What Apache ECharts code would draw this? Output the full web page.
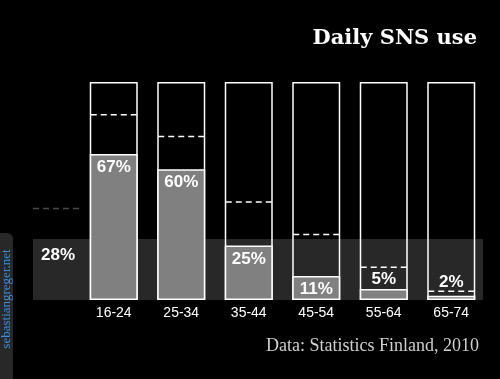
<!DOCTYPE html>
<html lang="en">
<head>
    <meta charset="UTF-8">
    <title>Daily SNS use</title>
    <style>
        body, html { margin: 0; height: 100%; overflow: hidden; background: #000; }
        #main { width: 500px; height: 379px; }
    </style>
</head>
<body>
    <div id="main"></div>
    <script src="https://cdn.jsdelivr.net/npm/echarts@6/dist/echarts.min.js"></script>
    <script type="text/javascript">
        // age groups and share of daily SNS users (%)
        const ageGroups = ['16-24', '25-34', '35-44', '45-54', '55-64', '65-74'];
        const dailyUse = [67, 60, 25, 11, 5, 2];
        // dashed marks inside each bar
        const dashedUse = [85, 75, 45, 30, 15, 4];
        // whole population
        const avgDaily = 28;
        const avgDashed = 42;

        var myChart = echarts.init(document.getElementById('main'));

        // labels of tiny bars sit above the fill
        const fillData = dailyUse.map(function (v, i) {
            if (v < 10) {
                return { value: v, label: { position: 'top', distance: i == 5 ? 5 : 1 } };
            }
            return v;
        });

        var option = {
            backgroundColor: '#000',
            animation: false,
            title: [{
                text: 'Daily SNS use',
                right: 18,
                top: 23,
                textStyle: { color: '#fff', fontFamily: 'DejaVu Serif', fontWeight: 'bold', fontSize: 21 }
            }, {
                text: 'Data: Statistics Finland, 2010',
                right: 16,
                top: 332,
                textStyle: { color: '#cfcfcf', fontFamily: 'Liberation Serif', fontWeight: 'normal', fontSize: 18 }
            }],
            grid: { left: 80, right: 15, top: 82, bottom: 79 },
            xAxis: {
                type: 'category',
                data: ageGroups,
                axisLine: { show: false },
                axisTick: { show: false },
                axisLabel: { color: '#fff', fontFamily: 'Arial', fontSize: 14, margin: 6 }
            },
            yAxis: { type: 'value', min: 0, max: 100, show: false },
            series: [
                {
                    // grey band for the population average
                    type: 'custom',
                    z: 1,
                    data: [[0, avgDaily, avgDashed]],
                    renderItem: function (params, api) {
                        var cs = params.coordSys;
                        var top = api.coord([0, api.value(1)])[1];
                        var base = api.coord([0, 0])[1];
                        var dash = api.coord([0, api.value(2)])[1];
                        return {
                            type: 'group',
                            children: [{
                                type: 'rect',
                                shape: { x: cs.x - 47, y: top, width: cs.width + 45, height: base - top },
                                style: { fill: '#282828' }
                            }, {
                                type: 'line',
                                shape: { x1: cs.x - 47, y1: dash, x2: cs.x + 1, y2: dash },
                                style: { stroke: '#4a4a4a', lineWidth: 1.5, lineDash: [6, 4] }
                            }, {
                                type: 'text',
                                x: cs.x - 39,
                                y: top + 16,
                                style: {
                                    text: api.value(1) + '%', fill: '#fff',
                                    font: 'bold 17px Arial', verticalAlign: 'middle'
                                }
                            }]
                        };
                    }
                },
                {
                    // 100% frame
                    type: 'bar',
                    z: 2,
                    barWidth: 48,
                    barGap: '-100%',
                    silent: true,
                    data: ageGroups.map(function () { return 100; }),
                    itemStyle: { color: 'rgba(0,0,0,0)', borderColor: '#fff', borderWidth: 1.5 }
                },
                {
                    name: 'Daily',
                    type: 'bar',
                    z: 3,
                    barWidth: 48,
                    barGap: '-100%',
                    data: fillData,
                    itemStyle: { color: '#808080', borderColor: '#fff', borderWidth: 1.5 },
                    label: {
                        show: true,
                        position: 'insideTop',
                        distance: 5,
                        formatter: '{c}%',
                        color: '#fff',
                        fontFamily: 'Arial',
                        fontWeight: 'bold',
                        fontSize: 17
                    }
                },
                {
                    // dashed marks
                    type: 'custom',
                    z: 4,
                    data: dashedUse.map(function (v, i) { return [i, v]; }),
                    renderItem: function (params, api) {
                        var p = api.coord([api.value(0), api.value(1)]);
                        return {
                            type: 'line',
                            shape: { x1: p[0] - 23, y1: p[1], x2: p[0] + 23, y2: p[1] },
                            style: { stroke: '#fff', lineWidth: 1.5, lineDash: [6, 4] }
                        };
                    }
                }
            ],
            graphic: {
                elements: [{
                    type: 'rect',
                    left: 0,
                    top: 233,
                    shape: { width: 13, height: 150, r: [0, 6, 0, 0] },
                    style: { fill: '#282828' }
                }, {
                    type: 'text',
                    x: 7,
                    y: 299,
                    rotation: Math.PI / 2,
                    style: {
                        text: 'sebastiangreger.net',
                        fill: '#3d8fe0',
                        font: '13px "Liberation Serif"',
                        align: 'center',
                        verticalAlign: 'middle'
                    }
                }]
            }
        };

        myChart.setOption(option);
    </script>
</body>
</html>
